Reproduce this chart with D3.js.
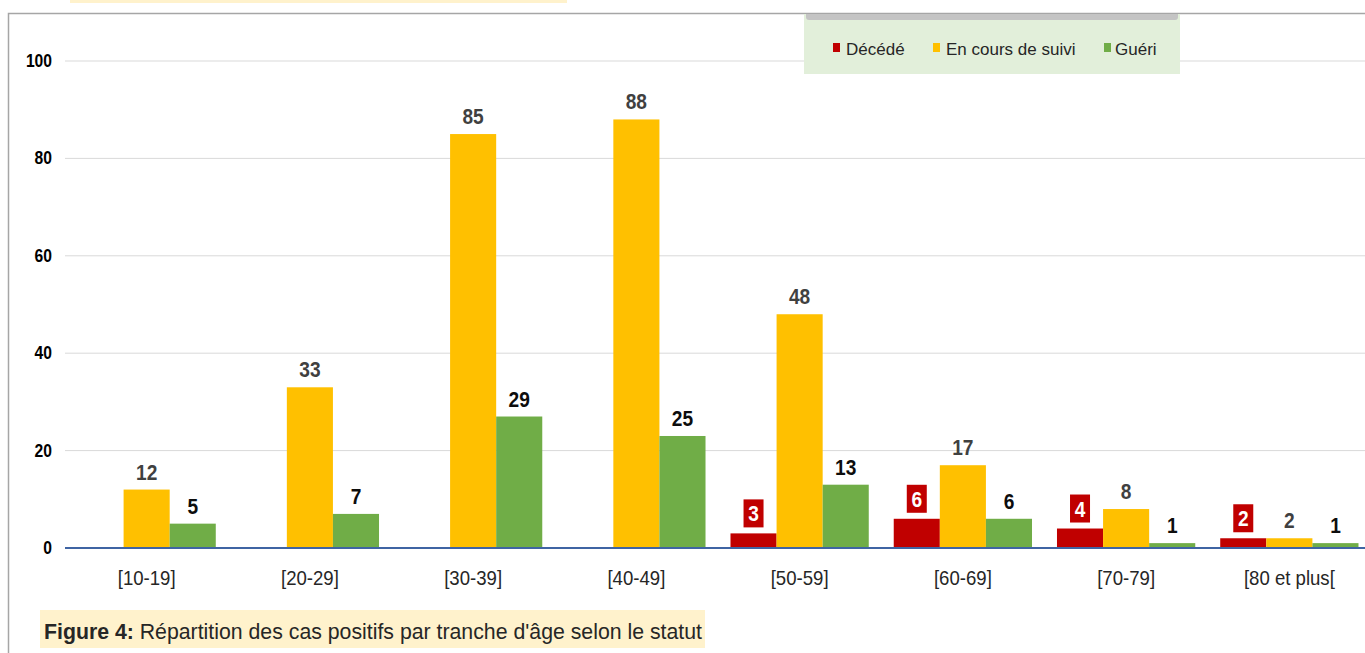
<!DOCTYPE html>
<html>
<head>
<meta charset="utf-8">
<script src="https://cdn.jsdelivr.net/npm/d3@7/dist/d3.min.js"></script>
<style>
  body { margin: 0; background: #ffffff; }
  svg { display: block; }
</style>
</head>
<body>
<div id="chart-box"></div>
<script>
var categories = ["[10-19]", "[20-29]", "[30-39]", "[40-49]", "[50-59]", "[60-69]", "[70-79]", "[80 et plus["];
var seriesNames = ["Décédé", "En cours de suivi", "Guéri"];
var decede = [null, null, null, null, 3, 6, 4, 2];
var enCours = [12, 33, 85, 88, 48, 17, 8, 2];
// bar heights as drawn; the printed labels differ for two groups
var gueri = [5, 7, 27, 23, 13, 6, 1, 1];
var gueriLabels = [5, 7, 29, 25, 13, 6, 1, 1];
var yTicks = [0, 20, 40, 60, 80, 100];
var caption = ["Figure 4:", " Répartition des cas positifs par tranche d'âge selon le statut"];

var width = 1365, height = 653;
var colors = ["#c00000", "#ffc000", "#70ad47"];
var font = "Arial, 'Liberation Sans', sans-serif";

var svg = d3.select("#chart-box")
    .append("svg")
    .attr("width", width)
    .attr("height", height);

// scraps of the page around the chart
svg.append("rect")
    .attr("x", 70).attr("y", 0)
    .attr("width", 497).attr("height", 3)
    .attr("fill", "#fff2cc");

svg.append("path")
    .attr("d", "M8.5,653 V13.5 H1365")
    .attr("fill", "none")
    .attr("stroke", "#a6a6a6")
    .attr("stroke-width", 1.5);

var x0 = d3.scaleBand()
    .domain(categories)
    .range([65, 1371])
    .paddingInner(0.153)
    .paddingOuter(0.0766);

var x1 = d3.scaleBand()
    .domain(seriesNames)
    .range([0, x0.bandwidth()]);

var y = d3.scaleLinear()
    .domain([0, 100])
    .range([548, 61]);

// gridlines
svg.append("g")
    .selectAll("line")
    .data(yTicks.slice(1))
    .enter()
    .append("line")
    .attr("x1", 65)
    .attr("x2", width)
    .attr("y1", function(d) { return y(d); })
    .attr("y2", function(d) { return y(d); })
    .attr("stroke", "#d9d9d9")
    .attr("stroke-width", 1);

// y tick labels
svg.append("g")
    .selectAll("text")
    .data(yTicks)
    .enter()
    .append("text")
    .attr("transform", function(d) {
        return "translate(52," + (y(d) + 6) + ") scale(0.87,1)";
    })
    .attr("text-anchor", "end")
    .attr("font-family", font)
    .attr("font-weight", "bold")
    .attr("font-size", 18)
    .attr("fill", "#000")
    .text(function(d) { return d; });

var rows = categories.map(function(c, i) {
  return {
    cat: c,
    bars: [
      {s: seriesNames[0], v: decede[i], label: decede[i], k: 0},
      {s: seriesNames[1], v: enCours[i], label: enCours[i], k: 1},
      {s: seriesNames[2], v: gueri[i], label: gueriLabels[i], k: 2}
    ].filter(function(b) { return b.v != null; })
  };
});

var group = svg.append("g")
    .selectAll(".group")
    .data(rows)
    .enter()
    .append("g")
    .attr("class", "group")
    .attr("transform", function(d) { return "translate(" + x0(d.cat) + ",0)"; });

group.selectAll("rect.bar")
    .data(function(d) { return d.bars; })
    .enter()
    .append("rect")
    .attr("class", "bar")
    .attr("x", function(d) { return x1(d.s); })
    .attr("y", function(d) { return y(d.v); })
    .attr("width", x1.bandwidth())
    .attr("height", function(d) { return y(0) - y(d.v); })
    .attr("fill", function(d) { return colors[d.k]; });

// red labels sit in a small red box
var redLab = group.selectAll("g.redlab")
    .data(function(d) { return d.bars.filter(function(b) { return b.k == 0; }); })
    .enter()
    .append("g")
    .attr("class", "redlab")
    .attr("transform", function(d) {
        return "translate(" + (x1(d.s) + x1.bandwidth() / 2) + "," + (y(d.v) - 6) + ")";
    });

redLab.append("rect")
    .attr("x", -10)
    .attr("y", -28)
    .attr("width", 20)
    .attr("height", 28)
    .attr("fill", "#c00000");

redLab.append("text")
    .attr("transform", "translate(0,-6) scale(0.87,1)")
    .attr("text-anchor", "middle")
    .attr("font-family", font)
    .attr("font-weight", "bold")
    .attr("font-size", 22)
    .attr("fill", "#ffffff")
    .text(function(d) { return d.label; });

group.selectAll("text.val")
    .data(function(d) { return d.bars.filter(function(b) { return b.k > 0; }); })
    .enter()
    .append("text")
    .attr("class", "val")
    .attr("transform", function(d) {
        return "translate(" + (x1(d.s) + x1.bandwidth() / 2) + "," + (y(d.v) - 10) + ") scale(0.87,1)";
    })
    .attr("text-anchor", "middle")
    .attr("font-family", font)
    .attr("font-weight", "bold")
    .attr("font-size", 22)
    .attr("fill", function(d) { return d.k == 1 ? "#404040" : "#0d0d0d"; })
    .text(function(d) { return d.label; });

// baseline
svg.append("line")
    .attr("x1", 65)
    .attr("x2", width)
    .attr("y1", y(0))
    .attr("y2", y(0))
    .attr("stroke", "#3f64a3")
    .attr("stroke-width", 2.2);

// category labels
svg.append("g")
    .selectAll("text")
    .data(categories)
    .enter()
    .append("text")
    .attr("transform", function(d) {
        return "translate(" + (x0(d) + x0.bandwidth() / 2) + ",585) scale(0.93,1)";
    })
    .attr("text-anchor", "middle")
    .attr("font-family", font)
    .attr("font-size", 20)
    .attr("fill", "#262626")
    .text(function(d) { return d; });

// legend
var legend = svg.append("g");

legend.append("rect")
    .attr("x", 804).attr("y", 14)
    .attr("width", 376).attr("height", 60)
    .attr("fill", "#e2efda");

legend.append("path")
    .attr("d", "M806,14 H1178 V17 Q1178,20 1175,20 H809 Q806,20 806,17 Z")
    .attr("fill", "#c4c4c4");

var legendX = [833, 933, 1104];

var item = legend.selectAll("g.item")
    .data(seriesNames)
    .enter()
    .append("g")
    .attr("class", "item")
    .attr("transform", function(d, i) { return "translate(" + legendX[i] + ",0)"; });

item.append("rect")
    .attr("x", 0).attr("y", 43)
    .attr("width", 7).attr("height", 9)
    .attr("fill", function(d, i) { return colors[i]; });

item.append("text")
    .attr("x", function(d, i) { return i == 2 ? 11 : 13; })
    .attr("y", 55)
    .attr("font-family", font)
    .attr("font-size", 17)
    .attr("fill", "#262626")
    .text(function(d) { return d; });

// figure caption
svg.append("rect")
    .attr("x", 40).attr("y", 610)
    .attr("width", 665).attr("height", 38)
    .attr("fill", "#fff2cc");

var cap = svg.append("text")
    .attr("x", 44)
    .attr("y", 639)
    .attr("font-family", font)
    .attr("font-size", 22)
    .attr("fill", "#262626")
    .attr("textLength", 658)
    .attr("lengthAdjust", "spacingAndGlyphs");

cap.append("tspan")
    .attr("font-weight", "bold")
    .text(caption[0]);

cap.append("tspan")
    .text(caption[1]);
</script>
</body>
</html>
